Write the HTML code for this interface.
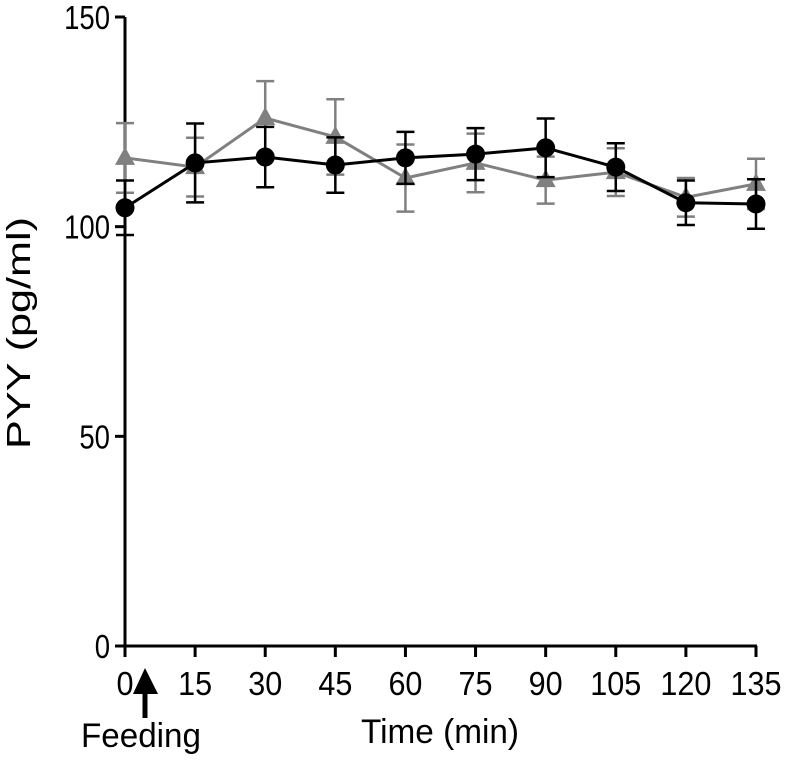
<!DOCTYPE html>
<html><head><meta charset="utf-8"><style>
body{margin:0;background:#fff}
svg text{font-family:"Liberation Sans",Arial,sans-serif;fill:#000}
</style></head><body>
<svg id="chart" width="786" height="757">
<g id="axes"></g><g id="plot"></g>
<text x="30" y="333" font-size="33" text-anchor="middle" textLength="232" lengthAdjust="spacingAndGlyphs" transform="rotate(-90 30 333)">PYY (pg/ml)</text>
<text x="440" y="743" font-size="34" text-anchor="middle" textLength="158" lengthAdjust="spacingAndGlyphs">Time (min)</text>
<g>
<line x1="145" y1="688" x2="145" y2="718" stroke="#000" stroke-width="5"/>
<polygon points="133,694 158,694 145,668" fill="#000"/>
</g>
<text x="141" y="747" font-size="34" text-anchor="middle" textLength="120" lengthAdjust="spacingAndGlyphs">Feeding</text>
</svg>
<script>
const times=[0,15,30,45,60,75,90,105,120,135];
const yTicks=[0,50,100,150];
const blackMean=[104.5,115.2,116.6,114.7,116.4,117.3,118.8,114.2,105.7,105.4];
const blackErr=[6.5,9.4,7.2,6.6,6.2,6.2,7,5.7,5.3,5.9];
const grayMean=[116.4,114.2,125.9,121.4,111.6,115.2,111.1,113,107,110.2];
const grayErr=[8.3,7,8.8,9,8,7,5.6,5.7,4.6,6];
const NS="http://www.w3.org/2000/svg";
const X=v=>125+v*(631/135), Y=v=>646-v*(629/150);
function mk(t,a,p){const e=document.createElementNS(NS,t);for(const k in a)e.setAttribute(k,a[k]);p.appendChild(e);return e;}
const ax=document.getElementById('axes'),pl=document.getElementById('plot');
let e=mk('line',{x1:125,y1:Y(150),x2:125,y2:646,stroke:'#000','stroke-width':3},ax);

e=mk('line',{x1:125,y1:646,x2:X(135)+1,y2:646,stroke:'#000','stroke-width':3},ax);

yTicks.forEach(v=>{mk('line',{x1:115,y1:Y(v),x2:125,y2:Y(v),stroke:'#000','stroke-width':3},ax);
 const s=String(v);
 const t=mk('text',{x:110,y:Y(v)+12,'font-size':33,'text-anchor':'end',textLength:s.length*15.3,lengthAdjust:'spacingAndGlyphs'},ax);t.textContent=s;
 });
times.forEach(v=>{mk('line',{x1:X(v),y1:646,x2:X(v),y2:657,stroke:'#000','stroke-width':3},ax);
 const s=String(v);
 const t=mk('text',{x:X(v),y:695,'font-size':33,'text-anchor':'middle',textLength:s.length*17,lengthAdjust:'spacingAndGlyphs'},ax);t.textContent=s;
 });
function series(m,er,col,shape,name){
 const g=mk('g',{},pl);
 times.forEach((t,i)=>{const x=X(t);
  mk('line',{x1:x,y1:Y(m[i]-er[i]),x2:x,y2:Y(m[i]+er[i]),stroke:col,'stroke-width':2.5},g);
  [m[i]-er[i],m[i]+er[i]].forEach(v=>mk('line',{x1:x-9,y1:Y(v),x2:x+9,y2:Y(v),stroke:col,'stroke-width':2.5},g));});
 mk('polyline',{points:times.map((t,i)=>X(t)+','+Y(m[i])).join(' '),fill:'none',stroke:col,'stroke-width':3},g);
 times.forEach((t,i)=>{const x=X(t),y=Y(m[i]);let p;
  if(shape==='c')p=mk('circle',{cx:x,cy:y,r:9.5,fill:col},g);
  else p=mk('polygon',{points:`${x},${y-11} ${x-10},${y+7} ${x+10},${y+7}`,fill:col},g);
  });
}
series(grayMean,grayErr,'#808080','t','gray-series');
series(blackMean,blackErr,'#000','c','black-series');
</script>
</body></html>
